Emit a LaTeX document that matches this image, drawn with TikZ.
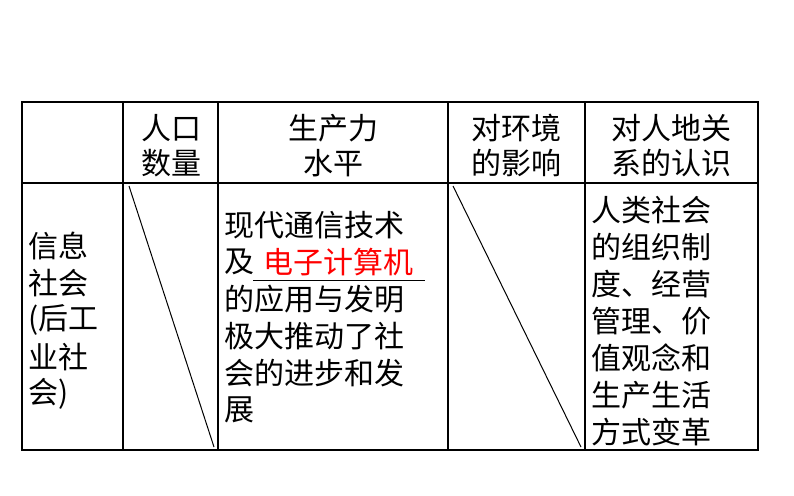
\documentclass[tikz,border=0pt]{standalone}
\usepackage{fontspec}
\setmainfont{Noto Sans CJK SC}
\begin{document}
\begin{tikzpicture}[x=1pt,y=-1pt,
  txt/.style={inner sep=0pt,font=\fontsize{30}{30}\selectfont,anchor=west},
  hd/.style={inner sep=0pt,font=\fontsize{30}{30}\selectfont,anchor=center}]
\useasboundingbox (0,0) rectangle (794,495);
\draw[line width=2.5pt] (22,102) rectangle (758,450);
\draw[line width=1.2pt] (22,183) -- (758,183);
\foreach \x in {123,218,448,585} \draw[line width=1.2pt] (\x,102) -- (\x,450);
\coordinate (d1a) at (129,186); \coordinate (d1b) at (214,447);
\coordinate (d2a) at (453,186); \coordinate (d2b) at (581,447);
\draw[line width=1pt] (d1a) -- (d1b);
\draw[line width=1pt] (d2a) -- (d2b);
% header
\node[hd] (h1) at (171,128) {人口};
\node[hd] (h1b) at (171,163) {数量};
\node[hd] (h2) at (333,128) {生产力};
\node[hd] (h2b) at (333,163) {水平};
\node[hd] (h3) at (516,128) {对环境};
\node[hd] (h3b) at (516,163) {的影响};
\node[hd] (h4) at (671,128) {对人地关};
\node[hd] (h4b) at (671,163) {系的认识};
% col1
\foreach \t [count=\i from 0] in {{信息},{社会},{(后工},{业社},{会)}}
  \node[txt] (a\i) at (28,{246+37*\i}) {\t};
% col3
\node[txt] (b0) at (224,225) {现代通信技术};
\node[txt] (b1) at (224,262) {及};
\draw[line width=0.8pt] (253,280) -- (425,280);
\node[hd,text=red] (ans) at (338,262) {电子计算机};
\foreach \t [count=\i from 2] in {的应用与发明,极大推动了社,会的进步和发,展}
  \node[txt] (b\i) at (224,{225+37*\i}) {\t};
% col5
\foreach \t [count=\i from 0] in {人类社会,的组织制,度、经营,管理、价,值观念和,生产生活,方式变革}
  \node[txt] (c\i) at (591,{210+37*\i}) {\t};
\end{tikzpicture}
\end{document}
